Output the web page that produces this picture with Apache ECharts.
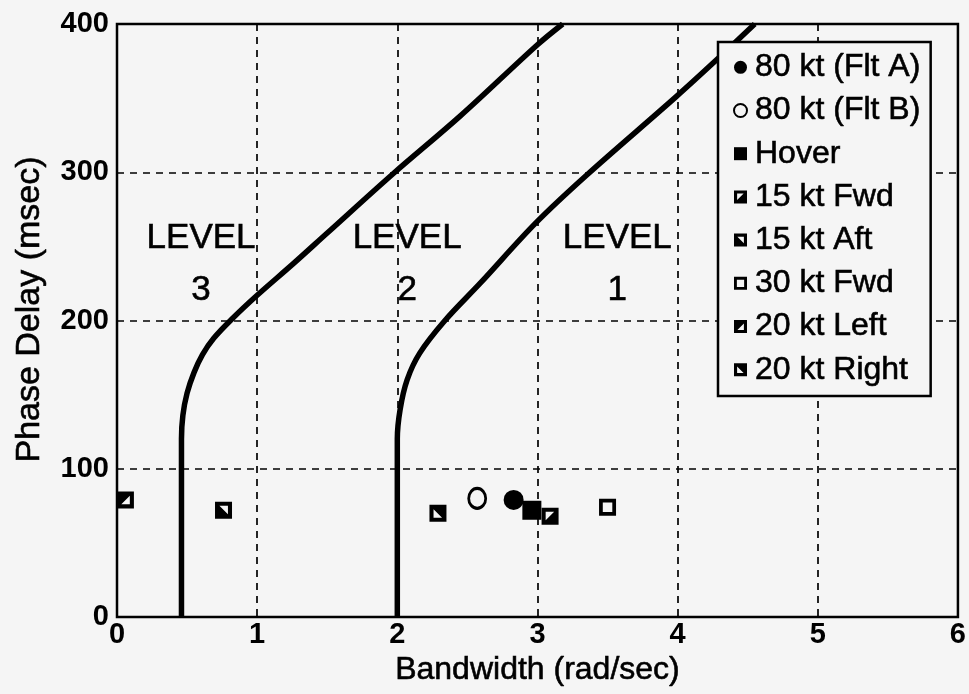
<!DOCTYPE html>
<html>
<head>
<meta charset="utf-8">
<script src="https://cdn.jsdelivr.net/npm/echarts@6/dist/echarts.min.js"></script>
<style>
  html, body { margin: 0; padding: 0; background: #f5f5f5; }
  #chart { width: 969px; height: 694px; }
</style>
</head>
<body>
<div id="chart"></div>
<script>
// Handling-qualities boundaries: bandwidth (rad/sec) vs phase delay (msec)
const boundaryLevel3to2 = [
  [0.46, 0], [0.46, 120], [0.47, 136], [0.50, 151], [0.55, 165], [0.61, 177],
  [0.69, 188], [0.82, 201], [1.0, 217], [1.26, 238.5], [1.5, 259],
  [1.97, 299], [2.45, 338], [3.0, 386], [3.18, 400]
];
const boundaryLevel2to1 = [
  [2.0, 0], [2.0, 120], [2.02, 140], [2.07, 160], [2.16, 178], [2.34, 200],
  [2.59, 225], [2.99, 266], [3.35, 298], [3.99, 351], [4.28, 376], [4.55, 400]
];

// Flight test points
const seriesNames = [
  '80 kt (Flt A)', '80 kt (Flt B)', 'Hover', '15 kt Fwd',
  '15 kt Aft', '30 kt Fwd', '20 kt Left', '20 kt Right'
];
const bandwidth = [2.83, 2.57, 2.96, 3.09, 0.76, 3.50, 0.06, 2.29];
const phaseDelay = [79, 80, 72, 68, 72, 74, 79, 70];

// Region labels
const levelNames = ['3', '2', '1'];
const levelAnchors = [[0.60, 238], [2.07, 238], [3.57, 238]];

const xTicks = [0, 1, 2, 3, 4, 5, 6];
const yTicks = [0, 100, 200, 300, 400];

const BG = '#f5f5f5';
const INK = '#000';
const FONT = 'Liberation Sans, Arial, sans-serif';
// a thin outline in the ink colour gives the heavier printed look
const HEAVY = { textBorderColor: INK, textBorderWidth: 0.6 };

// Marker shapes: square frame with a white triangular notch
const SQ = 'M0 0H10V10H0Z ';
const markerSymbols = [
  'circle',
  'circle',
  'rect',
  'path://' + SQ + 'M2.4 2.4L2.4 7.4L7.4 2.4Z',   // notch upper-left
  'path://' + SQ + 'M2.6 2.4L7.6 7.4L7.6 2.4Z',   // notch upper-right
  'path://' + SQ + 'M2.2 2.2V7.8H7.8V2.2Z',       // open square
  'path://' + SQ + 'M7.6 2.6L2.6 7.6L7.6 7.6Z',   // notch lower-right
  'path://' + SQ + 'M2.4 2.6L2.4 7.6L7.4 7.6Z'    // notch lower-left
];
const markerSizes = [20, [17, 20], 19, 17, 17, 17, 17, 17];

const chart = echarts.init(document.getElementById('chart'), null, { renderer: 'canvas' });

const scatterSeries = seriesNames.map((name, i) => {
  const open = i === 1;
  return {
    name: name,
    type: 'scatter',
    data: [[bandwidth[i], phaseDelay[i]]],
    symbol: markerSymbols[i],
    symbolSize: markerSizes[i],
    itemStyle: open
      ? { color: BG, borderColor: INK, borderWidth: 3, opacity: 1 }
      : { color: INK, opacity: 1 },
    z: 5 + i
  };
});

const option = {
  backgroundColor: BG,
  animation: false,
  grid: {
    left: 117, right: 10, top: 24, bottom: 77,
    show: true, borderColor: INK, borderWidth: 2.5, backgroundColor: 'transparent'
  },
  xAxis: {
    type: 'value',
    min: xTicks[0], max: xTicks[xTicks.length - 1], interval: 1,
    name: 'Bandwidth (rad/sec)',
    nameLocation: 'middle',
    nameGap: 37,
    nameTextStyle: Object.assign({ fontFamily: FONT, fontSize: 32, color: INK }, HEAVY),
    axisLine: { show: false },
    axisTick: { show: false },
    axisLabel: { fontFamily: FONT, fontSize: 29, fontWeight: 'bold', color: INK, margin: 3 },
    splitLine: { show: true, lineStyle: { color: INK, width: 1.7, type: [7, 6] } }
  },
  yAxis: {
    type: 'value',
    min: yTicks[0], max: yTicks[yTicks.length - 1], interval: 100,
    name: 'Phase Delay (msec)',
    nameLocation: 'middle',
    nameGap: 70,
    nameTextStyle: Object.assign({ fontFamily: FONT, fontSize: 34, color: INK, padding: [0, 0, 0, 22] }, HEAVY),
    axisLine: { show: false },
    axisTick: { show: false },
    axisLabel: { fontFamily: FONT, fontSize: 29, fontWeight: 'bold', color: INK, margin: 8 },
    splitLine: { show: true, lineStyle: { color: INK, width: 1.7, type: [7, 6] } }
  },
  legend: {
    data: seriesNames,
    orient: 'vertical',
    left: 718,
    top: 42,
    itemGap: 10.6,
    itemWidth: 13,
    itemHeight: 13,
    padding: [9, 10, 10, 15],
    backgroundColor: BG,
    borderColor: INK,
    borderWidth: 2.5,
    selectedMode: false,
    textStyle: Object.assign({ fontFamily: FONT, fontSize: 32, color: INK, padding: [0, 0, 0, 3] }, HEAVY)
  },
  series: [
    {
      name: 'Level 3/2 boundary',
      type: 'line',
      data: boundaryLevel3to2,
      smooth: 0.35,
      symbol: 'none',
      lineStyle: { color: INK, width: 5.5 },
      z: 3
    },
    {
      name: 'Level 2/1 boundary',
      type: 'line',
      data: boundaryLevel2to1,
      smooth: 0.35,
      symbol: 'none',
      lineStyle: { color: INK, width: 5.5 },
      z: 3
    },
    {
      name: 'Level labels',
      type: 'scatter',
      data: levelAnchors.map((p, i) => ({ value: p, level: levelNames[i] })),
      symbolSize: 1,
      itemStyle: { color: 'transparent', opacity: 1 },
      silent: true,
      label: Object.assign({
        show: true,
        position: 'inside',
        formatter: p => 'LEVEL\n' + p.data.level,
        fontFamily: FONT,
        fontSize: 35,
        lineHeight: 52,
        color: INK,
        opacity: 1,
        align: 'center',
        verticalAlign: 'middle'
      }, HEAVY),
      z: 4
    },
    ...scatterSeries
  ]
};

chart.setOption(option);
</script>
</body>
</html>
